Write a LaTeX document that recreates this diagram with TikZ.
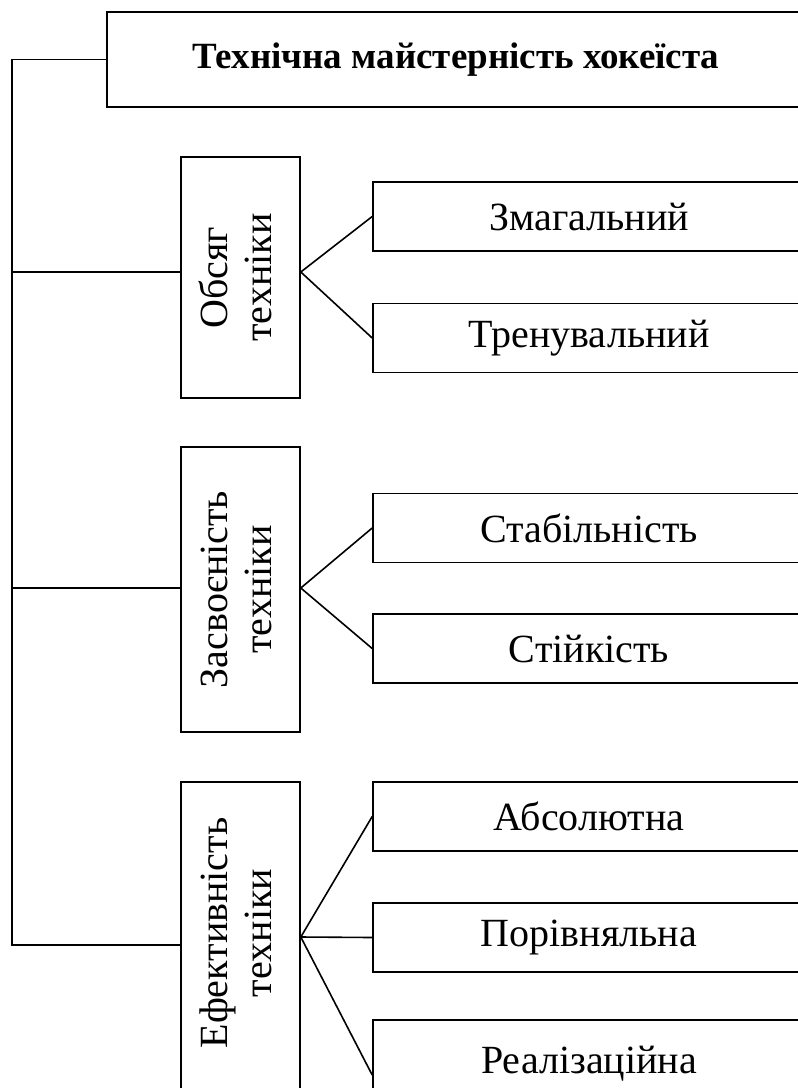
\documentclass[tikz,border=0pt]{standalone}
\usepackage{fontspec}
\setmainfont{Liberation Serif}
\usetikzlibrary{positioning,calc}

\begin{document}
\begin{tikzpicture}[
    x=1pt, y=-1pt,
    head/.style={rectangle, draw=black, line width=1.6pt, minimum width=793pt, minimum height=95pt, font=\fontsize{37}{40}\selectfont\bfseries, inner sep=0pt},
    group/.style={rectangle, draw=black, line width=1.6pt, minimum width=119pt, align=center, font=\fontsize{40}{44}\selectfont, inner sep=0pt},
    item/.style={rectangle, draw=black, line width=1.6pt, minimum width=527pt, minimum height=69pt, font=\fontsize{40}{44}\selectfont, inner sep=0pt},
    link/.style={draw=black, line width=1.6pt}
]
\useasboundingbox (0,0) rectangle (798,1088);
\clip (0,0) rectangle (798,1088);

% Title (right side runs off the page)
\node[head] (title) at (503.5, 59.5) {\hspace*{-95pt}Технічна майстерність хокеїста};

% Groups
\node[group, minimum height=241pt] (obsyag) at (240.5, 277.5) {\rotatebox{90}{\begin{tabular}{@{}c@{}}Обсяг\\техніки\end{tabular}}};
\node[group, minimum height=285pt] (zasv) at (240.5, 589.5) {\rotatebox{90}{\begin{tabular}{@{}c@{}}Засвоєність\\техніки\end{tabular}}};
\node[group, minimum height=360pt] (efekt) at (240.5, 962) {\rotatebox{90}{\hspace*{58pt}\begin{tabular}{@{}c@{}}Ефективність\\техніки\end{tabular}}};

% Items (right side runs off the page)
\node[item] (zmag) at (636.5, 216.5) {\hspace*{-95pt}Змагальний};
\node[item] (tren) at (636.5, 338) {\hspace*{-95pt}Тренувальний};
\node[item] (stab) at (636.5, 528) {\hspace*{-95pt}Стабільність};
\node[item] (stiyk) at (636.5, 648.5) {\hspace*{-95pt}Стійкість};
\node[item] (abs) at (636.5, 816.5) {\hspace*{-95pt}Абсолютна};
\node[item] (por) at (636.5, 937.5) {\hspace*{-95pt}Порівняльна};
\node[item, minimum height=90pt] (real) at (636.5, 1065) {\hspace*{-95pt}\raisebox{10pt}{Реалізаційна}};

% Spine
\coordinate (top) at (12, 59.5);
\coordinate (bot) at (12, 945);
\draw[link] (title.west) -- (top) -- (bot) -- (efekt.west |- bot);
\draw[link] (obsyag.west |- 0,272) -- (obsyag.west |- 0,272 -| top);
\draw[link] (zasv.west |- 0,588) -- (zasv.west |- 0,588 -| top);

% Fans
\coordinate (f1) at (obsyag.east |- 0,272);
\coordinate (f2) at (zasv.east |- 0,588);
\coordinate (f3) at (efekt.east |- 0,937);
\draw[link] (zmag.west) -- (f1) -- (tren.west);
\draw[link] (stab.west) -- (f2) -- (stiyk.west);
\draw[link] (abs.west) -- (f3) -- ([yshift=-10pt]real.west);
\draw[link] (f3) -- (por.west);

\end{tikzpicture}
\end{document}
